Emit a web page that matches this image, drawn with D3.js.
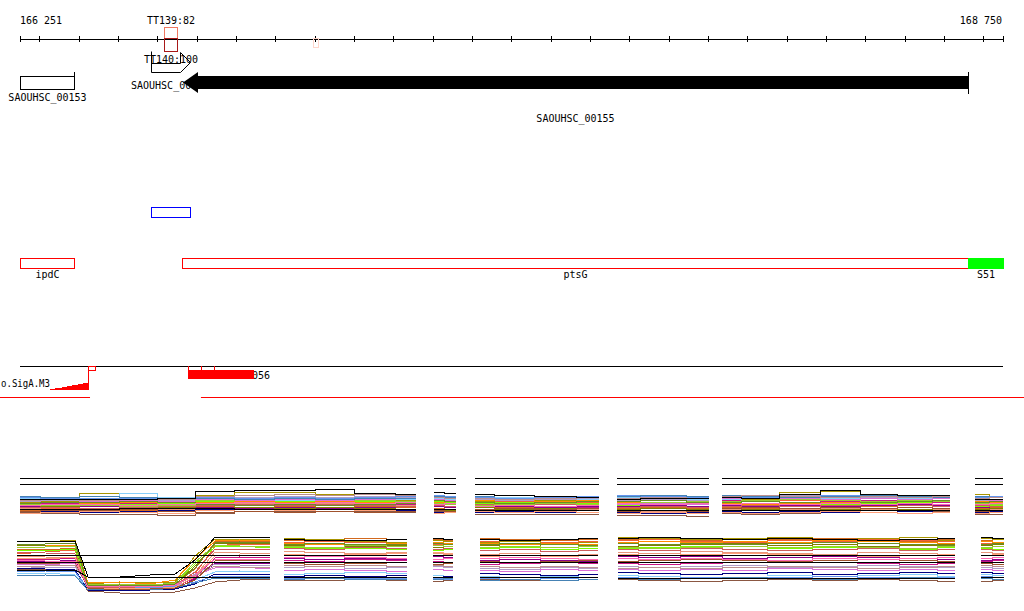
<!DOCTYPE html>
<html><head><meta charset="utf-8">
<script src="https://cdn.jsdelivr.net/npm/d3@7"></script>
<style>
body{margin:0;background:#fff}
svg{display:block}
text{font-family:"DejaVu Sans Mono",monospace;font-size:10px;fill:#000}
</style>
</head><body>
<svg id="c" width="1024" height="611"></svg>
<script>
// ---------- data ----------
const viewStart = 166251, viewEnd = 168750;
const rulerTicks = [166251,166300,166400,166500,166600,166700,166800,166900,167000,167100,167200,167300,167400,167500,167600,167700,167800,167900,168000,168100,168200,168300,168400,168500,168600,168700,168750];
const rulerLabels = ["166 251","168 750"];

const termNames = ["TT139:82","TT140:100"];
const termStarts = [166617,166584];
const termEnds = [166650,166683];

const geneNames = ["SAOUHSC_00153","SAOUHSC_00154","SAOUHSC_00155"];
const geneStarts = [166251,166600,166665];
const geneEnds = [166388,166700,168661];

const blueFeatStart = 166584, blueFeatEnd = 166683;

const annotNames = ["ipdC","ptsG","S51"];
const annotStarts = [166251,166663,168661];
const annotEnds = [166388,168661,168750];

const motifLabel = "o.SigA.M3";
const motifPos = [166327,166340,166358,166370,166383,166398,166411,166426];
const motifScore = [1,2,3,3.5,4.5,5.5,7,7];
const motifBox = [166424,166442];
const blockLabel = "056";
const blockStart = 166678, blockEnd = 166846;
const blockMarks = [166678,166711,166744];
const redLineSegs = [[166200,166429],[166711,168810]];

// expression tiling rows
const row1Probes = [166251,166353,166454,166556,166645,166747,166848,166950,167052,167153,167258, 167303,167359, 167408,167509,167611,167723, 167769,167886,168003, 168036,168132,168234,168336,168437,168526,168615, 168679,168750];
const row1Segments = [[166251,167258],[167303,167359],[167408,167723],[167769,168003],[168036,168615],[168679,168750]];
const row2Probes = [166243,166315,166391,166424,166505,166582,166645,166696,166747,166810,166887, 166922,167026,167128,167235, 167301,167352, 167420,167522,167624,167720, 167771,167878,167980,168094,168209,168323,168437,168539,168628, 168694,168753];
const row2Segments = [[166243,166887],[166922,167235],[167301,167352],[167420,167720],[167771,168628],[168694,168753]];

const sampleColors = ["#8b5742","#f0603a","#d2691e","#a89400","#7cfc00","#87cefa","#c71585","#8b008b","#b09cc8","#e9967a","#000080","#808000","#ff8c00","#da70d6","#6495ed",
  "#cd5c5c","#ffa07a","#9acd32","#4682b4","#bc8f8f","#a0522d","#6b8e23","#ff69b4",
  "#000000","#000000","#000000","#000000"];

const row1Values = [
 [4,3,2,2,1,3,5,5,5,5,4, 5,5, 2,2,2,2, 1,1,0, 3,2,3,4,4,5,5, 2,2],
 [7,8,8,9,11,16,17,16,17,13,13, 12,13, 14,15,13,14, 13,12,13, 14,15,16,15,14,13,14, 12,13],
 [6,5,7,6,8,10,11,10,11,10,9, 8,9, 10,9,10,11, 8,9,8, 9,8,8,9,10,9,8, 8,9],
 [14,15,23,23,18,21,24,24,22,18,16, 16,17, 15,14,16,17, 17,16,16, 16,17,24,25,20,20,21, 22,19],
 [11,11,10,12,13,15,14,15,14,15,14, 15,14, 13,14,12,13, 11,12,13, 12,13,14,12,13,14,12, 10,11],
 [18,17,17,23,19,16,15,16,15,16,17, 18,17, 18,19,18,17, 19,18,17, 17,18,17,18,19,18,19, 18,17],
 [12,13,12,13,14,13,12,13,12,13,12, 11,12, 7,8,7,9, 15,14,15, 16,15,14,15,16,15,14, 14,13],
 [10,9,10,9,10,9,8,9,8,9,10, 10,9, 11,10,9,10, 10,11,10, 11,10,11,10,11,12,11, 9,10],
 [15,16,14,15,16,18,19,20,19,20,19, 19,20, 17,16,17,18, 16,17,16, 19,20,21,20,19,19,20, 16,15],
 [8,7,6,8,7,12,13,12,13,12,11, 6,7, 6,5,6,7, 6,5,6, 7,6,7,8,7,6,7, 6,7],
 [5,5,4,5,6,7,7,6,7,6,6, 4,4, 4,5,4,4, 4,3,4, 5,4,5,4,4,5,4, 4,5],
 [9,10,11,10,9,8,9,8,9,8,7, 7,6, 9,7,8,6, 7,8,7, 6,7,6,7,6,7,6, 7,8],
 [13,12,13,14,12,14,15,14,15,14,15, 14,15, 16,17,15,16, 14,13,14, 13,12,13,14,15,16,15, 15,14],
 [16,14,15,16,15,17,16,17,16,17,18, 17,16, 12,13,14,15, 12,13,12, 18,19,18,17,18,17,18, 17,16],
 [19,18,18,18,17,19,18,19,18,19,20, 21,20, 19,18,19,20, 21,20,19, 20,19,20,21,20,21,19, 19,20],
 [9,9,8,9,10,11,12,11,12,11,10, 11,10, 12,11,12,11, 9,10,9, 10,11,10,11,12,11,10, 11,10],
 [3,4,5,4,3,6,7,6,7,6,5, 3,4, 5,4,5,4, 3,4,3, 4,3,4,5,4,3,4, 3,4],
 [12,11,11,10,11,16,17,18,17,16,15, 13,12, 11,12,13,12, 15,14,15, 15,16,17,16,15,16,15, 13,12],
 [20,19,20,19,18,18,17,18,17,18,18, 20,19, 20,21,20,19, 20,21,20, 21,20,19,20,21,20,19, 20,19],
 [16,17,16,17,17,20,21,22,21,22,21, 19,18, 18,17,18,19, 18,19,18, 20,21,20,19,20,19,20, 18,19],
 [5,6,6,7,5,4,5,4,5,4,5, 6,5, 7,8,7,8, 5,6,5, 8,9,8,9,8,9,8, 5,6],
 [13,14,14,15,14,12,11,12,11,12,13, 16,15, 14,13,14,15, 15,16,14, 14,15,14,13,14,15,16, 14,15],
 [11,12,12,11,12,13,14,13,14,13,14, 12,13, 10,11,10,11, 13,12,13, 12,13,12,13,12,13,12, 12,13],
 [7,7,7,8,8,8,7,7,7,7,7, 7,7, 6,6,6,6, 6,6,6, 6,6,6,6,6,6,6, 6,6],
 [17,17,17,17,18,25,26,26,27,23,22, 24,23, 22,21,20,19, 17,18,18, 19,18,22,26,22,21,21, 17,17],
 [32,32,32,32,32,32,32,32,32,32,32, 32,32, 32,32,32,32, 32,32,32, 32,32,32,32,32,32,32, 32,32],
 [38,38,38,38,38,38,38,38,38,38,38, 38,38, 38,38,38,38, 38,38,38, 38,38,38,38,38,38,38, 38,38]
];

const row2Values = [
 [24,25,23,3,1,1,2,6,12,14,15, 14,14,15,14, 13,14, 15,14,14,15, 15,14,13,14,15,14,15,14,13, 13,14],
 [40,42,44,6,8,7,9,20,48,50,49, 52,53,52,51, 50,51, 53,54,52,53, 54,55,53,52,54,53,55,54,53, 51,52],
 [45,44,46,8,7,9,10,25,52,53,52, 54,55,56,55, 55,54, 56,55,54,55, 55,53,54,56,55,56,54,53,55, 54,55],
 [53,52,54,10,12,11,12,38,55,55,54, 56,55,53,52, 54,53, 52,53,51,52, 57,56,55,56,57,55,56,57,54, 56,55],
 [44,43,45,7,9,8,11,30,47,48,46, 47,46,46,45, 44,45, 46,47,45,46, 46,47,48,45,46,47,46,45,47, 46,45],
 [20,21,19,5,6,5,6,14,22,23,22, 20,21,22,21, 19,18, 18,17,18,17, 19,18,20,21,19,18,19,20,18, 20,19],
 [35,34,36,6,5,6,7,16,36,37,36, 34,33,35,34, 33,32, 30,31,32,31, 31,30,31,32,33,32,31,30,31, 33,34],
 [33,32,34,5,4,6,5,15,31,30,31, 36,35,36,35, 38,37, 34,35,34,33, 38,37,38,36,37,38,37,36,35, 34,35],
 [28,26,27,9,10,9,8,20,30,29,28, 27,28,26,27, 28,27, 26,25,27,26, 28,27,28,29,27,28,29,28,27, 27,26],
 [38,37,36,8,9,8,10,18,42,41,40, 43,42,41,42, 41,40, 40,41,39,40, 42,41,43,42,41,40,42,41,40, 42,41],
 [26,25,24,4,3,4,5,10,20,19,20, 18,19,18,19, 17,18, 21,20,19,20, 22,21,20,21,22,20,21,22,21, 22,21],
 [48,49,47,9,8,10,9,28,50,51,50, 49,50,48,49, 47,48, 49,48,50,49, 48,49,50,51,49,50,48,49,50, 49,50],
 [50,49,48,11,12,10,14,35,53,54,53, 51,50,50,51, 52,51, 51,50,51,50, 52,53,52,53,52,54,53,52,51, 53,52],
 [30,29,31,7,6,7,8,19,26,27,25, 24,25,24,23, 25,24, 24,23,25,24, 25,24,25,24,26,25,24,25,24, 25,24],
 [22,23,22,6,7,6,8,12,18,17,18, 16,17,16,16, 16,15, 16,17,16,15, 17,16,17,16,17,18,17,16,17, 18,17],
 [42,41,40,7,6,8,9,22,45,44,45, 46,45,47,46, 45,46, 44,45,43,44, 45,44,46,45,44,45,46,44,45, 45,44],
 [36,35,37,5,6,5,7,17,38,39,38, 40,39,40,41, 42,41, 38,37,38,39, 40,39,40,41,40,39,38,39,40, 39,40],
 [46,47,48,9,10,9,11,32,49,48,47, 48,47,49,48, 49,48, 47,48,47,48, 47,46,47,48,47,48,47,46,48, 47,48],
 [18,19,18,4,5,4,6,11,16,15,16, 15,16,15,15, 15,16, 14,15,14,15, 16,15,16,17,16,15,16,17,16, 16,15],
 [27,28,29,8,7,8,9,18,28,27,26, 29,28,29,28, 29,28, 28,27,28,27, 26,27,26,27,28,27,26,27,28, 29,28],
 [31,30,32,6,4,5,6,14,33,34,33, 31,30,31,32, 30,31, 33,32,33,34, 33,34,35,34,33,34,35,34,33, 31,30],
 [49,50,51,8,9,8,10,26,51,52,51, 50,51,50,50, 51,50, 50,51,50,49, 51,50,51,50,51,52,51,50,49, 50,51],
 [34,33,33,7,8,7,9,19,35,34,35, 37,38,37,36, 35,36, 36,37,36,35, 36,35,36,35,34,36,35,36,37, 36,37],
 [24,24,24,17,17,17,17,17,17,17,17, 17,17,17,17, 17,17, 17,17,17,17, 16,16,16,16,16,16,16,16,16, 17,17],
 [52,53,53,17,17,19,20,34,57,57,56, 55,54,54,55, 56,55, 55,54,55,56, 56,57,56,55,56,55,54,55,56, 57,56],
 [32,32,32,32,32,32,32,32,32,32,32, 32,32,32,32, 32,32, 32,32,32,32, 32,32,32,32,32,32,32,32,32, 32,32],
 [39,39,39,39,39,39,39,39,39,39,39, 39,39,39,39, 39,39, 39,39,39,39, 39,39,39,39,39,39,39,39,39, 39,39]
];

// ---------- drawing ----------
const svg = d3.select("#c");
const x = d3.scaleLinear().domain([viewStart, viewEnd]).range([20, 1003]);
const px = v => Math.round(v) + 0.5;

// ruler
svg.append("g").attr("transform","translate(0,38.5)")
  .call(d3.axisBottom(x).tickValues(rulerTicks).tickSize(3).tickSizeOuter(0).tickFormat(""));
svg.append("g").attr("transform","translate(0,38.5)")
  .call(d3.axisTop(x).tickValues(rulerTicks).tickSize(3).tickSizeOuter(0).tickFormat(""));
svg.selectAll(".domain, .tick line").attr("stroke","#000").attr("shape-rendering","crispEdges");
svg.append("text").attr("x", x(viewStart)).attr("y",24).text(rulerLabels[0]);
svg.append("text").attr("x", x(viewEnd)-1).attr("y",24).attr("text-anchor","end").text(rulerLabels[1]);

// pink marker on ruler
svg.append("rect").attr("x",px(x(167000))-2).attr("y",38.5).attr("width",5).attr("height",9)
  .attr("fill","none").attr("stroke","#ffd6cc");

// terminator TT139
{
  const x0 = px(x(termStarts[0])), x1 = px(x(termEnds[0]));
  svg.append("text").attr("x",(x0+x1)/2).attr("y",24).attr("text-anchor","middle").text(termNames[0]);
  svg.append("rect").attr("x",x0).attr("y",27.5).attr("width",x1-x0).attr("height",11)
    .attr("fill","none").attr("stroke","#f07860");
  svg.append("rect").attr("x",x0).attr("y",38.5).attr("width",x1-x0).attr("height",13)
    .attr("fill","none").attr("stroke","#a81818");
}
// terminator TT140 (outline arrow)
{
  const x0 = px(x(termStarts[1])), x1 = px(x(termEnds[1]));
  svg.append("text").attr("x",(x0+x1)/2).attr("y",63).attr("text-anchor","middle").text(termNames[1]);
  const hb = x1 - 10;
  svg.append("path").attr("d",`M${x0},63.5H${hb}V52.5L${x1},62.5L${hb},72.5H${x0}`)
    .attr("fill","none").attr("stroke","#000");
  svg.append("line").attr("x1",x0).attr("x2",x0).attr("y1",51.5).attr("y2",72.5).attr("stroke","#000");
}

// genes
{
  const a0 = px(x(geneStarts[0])), a1 = px(x(geneEnds[0]));
  svg.append("rect").attr("x",a0).attr("y",76.5).attr("width",a1-a0).attr("height",13)
    .attr("fill","#fff").attr("stroke","#000");
  svg.append("line").attr("x1",a1).attr("x2",a1).attr("y1",72).attr("y2",89.5).attr("stroke","#000");
  svg.append("text").attr("x",(a0+a1)/2).attr("y",101).attr("text-anchor","middle").text(geneNames[0]);

  svg.append("text").attr("x",131).attr("y",89).text(geneNames[1]);

  const c0 = Math.round(x(geneStarts[2])), c1 = Math.round(x(geneEnds[2]));
  const hb = c0 + 15;
  svg.append("path").attr("d",`M${c0},82.5L${hb},72V76H${c1}V89H${hb}V93Z`).attr("fill","#000");
  svg.append("line").attr("x1",c1+0.5).attr("x2",c1+0.5).attr("y1",72).attr("y2",94).attr("stroke","#000");
  svg.append("text").attr("x",(c0+c1)/2).attr("y",122).attr("text-anchor","middle").text(geneNames[2]);
}

// blue feature
svg.append("rect").attr("x",px(x(blueFeatStart))).attr("y",207.5)
  .attr("width",px(x(blueFeatEnd))-px(x(blueFeatStart))).attr("height",10)
  .attr("fill","none").attr("stroke","#0000ff");

// annotations
annotNames.forEach((n,i)=>{
  const a0 = px(x(annotStarts[i])), a1 = px(x(annotEnds[i]));
  if (n === "S51") {
    svg.append("rect").attr("x",a0-0.5).attr("y",258).attr("width",a1-a0+1).attr("height",11).attr("fill","#00ff00");
  } else {
    svg.append("rect").attr("x",a0).attr("y",258.5).attr("width",a1-a0).attr("height",10)
      .attr("fill","#fff").attr("stroke","#ff0000");
  }
  svg.append("text").attr("x",(a0+a1)/2).attr("y",278).attr("text-anchor","middle").text(n);
});

// promoter / motif track
svg.append("line").attr("x1",20).attr("x2",1003).attr("y1",366.5).attr("y2",366.5).attr("stroke","#000");
svg.append("text").attr("x",1).attr("y",387).attr("textLength",49).attr("lengthAdjust","spacingAndGlyphs").text(motifLabel);
const yScore = d3.scaleLinear().domain([0,10]).range([389.5,379.5]);
svg.append("path").datum(motifPos.map((p,i)=>[p,motifScore[i]]))
  .attr("d", d3.area().x(d=>x(d[0])).y0(yScore(0)).y1(d=>yScore(d[1])).curve(d3.curveStepAfter))
  .attr("fill","#ff0000").attr("shape-rendering","crispEdges");
svg.append("line").attr("x1",px(x(motifBox[0]))).attr("x2",px(x(motifBox[0]))).attr("y1",366).attr("y2",389.5).attr("stroke","#ff0000");
svg.append("rect").attr("x",px(x(motifBox[0]))).attr("y",366.5).attr("width",px(x(motifBox[1]))-px(x(motifBox[0]))).attr("height",4)
  .attr("fill","none").attr("stroke","#ff0000");
svg.append("text").attr("x",x(blockEnd)-2).attr("y",379).text(blockLabel);
svg.append("rect").attr("x",Math.round(x(blockStart))).attr("y",370).attr("width",Math.round(x(blockEnd))-Math.round(x(blockStart))).attr("height",9)
  .attr("fill","#ff0000");
blockMarks.forEach(b=>{
  svg.append("line").attr("x1",px(x(b))).attr("x2",px(x(b))).attr("y1",366).attr("y2",370).attr("stroke","#ff0000");
});
redLineSegs.forEach(s=>{
  svg.append("line").attr("x1",x(s[0])).attr("x2",x(s[1])).attr("y1",397.5).attr("y2",397.5).attr("stroke","#ff0000");
});

// expression rows
const y1 = d3.scaleLinear().domain([0,40]).range([516,476]);
const y2 = d3.scaleLinear().domain([0,58]).range([594,536]);
function drawRow(probes, segments, values, yScale, linearFirst) {
  const g = svg.append("g").attr("fill","none").attr("stroke-width",1).attr("shape-rendering","crispEdges");
  values.forEach((vals, si) => {
    segments.forEach((seg, gi) => {
      const pts = probes.map((p,j)=>[p, vals[j]]).filter(d => d[0] >= seg[0] && d[0] <= seg[1]);
      const line = d3.line().x(d=>x(d[0])).y(d=>yScale(d[1]))
        .curve(linearFirst && gi === 0 ? d3.curveLinear : d3.curveStep);
      g.append("path").attr("d", line(pts)).attr("stroke", sampleColors[si]);
    });
  });
}
drawRow(row1Probes, row1Segments, row1Values, y1, false);
drawRow(row2Probes, row2Segments, row2Values, y2, true);
</script>
</body></html>
